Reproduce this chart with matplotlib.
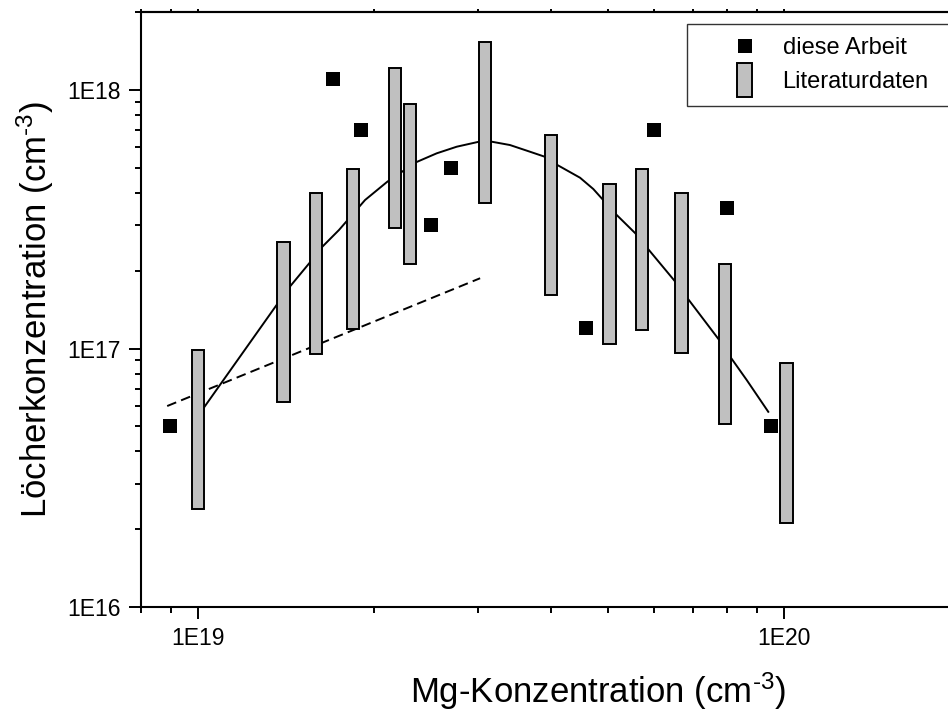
import matplotlib
matplotlib.use('Agg')
import numpy as np
import matplotlib.pyplot as plt
from matplotlib.patches import Rectangle
from matplotlib.lines import Line2D
from matplotlib.legend_handler import HandlerPatch
from matplotlib.ticker import LogLocator, NullFormatter, FixedLocator, FixedFormatter

plt.rcParams['font.family'] = ['Liberation Sans', 'DejaVu Sans']
plt.rcParams['mathtext.fontset'] = 'custom'
plt.rcParams['mathtext.rm'] = 'Liberation Sans'
plt.rcParams['mathtext.it'] = 'Liberation Sans:italic'
plt.rcParams['mathtext.bf'] = 'Liberation Sans:bold'
plt.rcParams['lines.scale_dashes'] = False

# ---------------- data ----------------
# diese Arbeit (squares)
own_mg = [8.95e18, 1.70e19, 1.90e19, 2.50e19, 2.70e19, 4.60e19, 6.00e19, 8.00e19, 9.50e19]
own_p = [5.0e16, 1.10e18, 7.0e17, 3.0e17, 5.0e17, 1.20e17, 7.0e17, 3.5e17, 5.0e16]

# Literaturdaten (ranges shown as bars)
lit_mg = [1.00e19, 1.40e19, 1.59e19, 1.84e19, 2.17e19, 2.30e19, 3.09e19,
          4.00e19, 5.04e19, 5.72e19, 6.69e19, 7.93e19, 1.01e20]
lit_low = [2.39e16, 6.2e16, 9.5e16, 1.19e17, 2.92e17, 2.12e17, 3.66e17,
           1.61e17, 1.04e17, 1.18e17, 9.6e16, 5.1e16, 2.11e16]
lit_high = [9.9e16, 2.59e17, 4.0e17, 4.94e17, 1.22e18, 8.85e17, 1.53e18,
            6.7e17, 4.34e17, 4.94e17, 4.0e17, 2.13e17, 8.8e16]

# solid guide curve
fit_mg = [1.000e19, 1.028e19, 1.362e19, 1.430e19, 1.553e19, 1.630e19, 1.740e19,
          1.928e19, 2.104e19, 2.355e19, 2.555e19, 2.764e19, 3.017e19, 3.171e19,
          3.407e19, 3.686e19, 3.905e19, 4.104e19, 4.487e19, 4.727e19, 5.168e19,
          5.576e19, 5.868e19, 6.524e19, 6.866e19, 7.737e19, 8.130e19, 8.637e19,
          9.401e19]
fit_p = [5.48e16, 5.99e16, 1.474e17, 1.719e17, 2.155e17, 2.476e17, 2.873e17,
         3.754e17, 4.418e17, 5.253e17, 5.690e17, 6.035e17, 6.31e17, 6.31e17,
         6.126e17, 5.771e17, 5.521e17, 5.128e17, 4.578e17, 4.140e17, 3.305e17,
         2.790e17, 2.420e17, 1.813e17, 1.550e17, 1.085e17, 9.165e16, 7.553e16,
         5.69e16]

# dashed line
lin_mg = [8.86e18, 3.03e19]
lin_p = [5.99e16, 1.87e17]

x_ticks = [1e19, 1e20]
x_ticklabels = ['1E19', '1E20']
y_ticks = [1e16, 1e17, 1e18]
y_ticklabels = ['1E16', '1E17', '1E18']

# ---------------- figure ----------------
fig = plt.figure(figsize=(9.48, 7.11), dpi=100)
W, H = 948.0, 711.0
ax = fig.add_axes([141.2 / W, (H - 607) / H, 922.4 / W, 594.8 / H])
ax.set_xscale('log')
ax.set_yscale('log')
ax.set_xlim(8e18, 3e20)
ax.set_ylim(1e16, 2e18)

# guide lines (behind bars)
ax.plot(fit_mg, fit_p, color='black', lw=1.4, zorder=1)
ax.plot(lin_mg, lin_p, color='black', lw=1.4, dashes=(7.0, 3.8), zorder=1)

# bars for literature ranges (constant width in log space)
mg = np.array(lit_mg)
half = 10 ** (0.0215 / 2)
left = mg / half
width = mg * half - mg / half
low = np.array(lit_low)
high = np.array(lit_high)
bars = ax.bar(left, high - low, width=width, bottom=low, align='edge',
              facecolor='#c0c0c0', edgecolor='black', linewidth=1.4, zorder=2)

# own data
sq, = ax.plot(own_mg, own_p, linestyle='none', marker='s', markersize=9.7,
              color='black', markeredgewidth=0, zorder=3)

# spines & ticks
for s in ax.spines.values():
    s.set_linewidth(1.5)
ax.xaxis.set_major_locator(FixedLocator(x_ticks))
ax.xaxis.set_major_formatter(FixedFormatter(x_ticklabels))
ax.yaxis.set_major_locator(FixedLocator(y_ticks))
ax.yaxis.set_major_formatter(FixedFormatter(y_ticklabels))
ax.xaxis.set_minor_locator(LogLocator(base=10, subs=np.arange(2, 10)))
ax.yaxis.set_minor_locator(LogLocator(base=10, subs=np.arange(2, 10)))
ax.xaxis.set_minor_formatter(NullFormatter())
ax.yaxis.set_minor_formatter(NullFormatter())
ax.tick_params(which='major', direction='out', length=8.6, width=1.4,
               labelsize=16.5, pad=6)
ax.tick_params(which='minor', direction='out', length=4.6, width=1.4)

sec = ax.secondary_xaxis('top')
sec.xaxis.set_major_locator(FixedLocator(x_ticks))
sec.xaxis.set_minor_locator(LogLocator(base=10, subs=np.arange(2, 10)))
sec.tick_params(which='both', direction='out', length=2.2, width=1.4,
                labeltop=False)
sec.spines['top'].set_linewidth(1.5)

ax.set_xlabel(r'Mg-Konzentration (cm$^{\text{-3}}$)', fontsize=25)
ax.set_ylabel(r'Löcherkonzentration (cm$^{\text{-3}}$)', fontsize=25)
ax.xaxis.label.set_va('baseline')
ax.xaxis.set_label_coords(0.5 - 4 / 922.4, (607 - 703) / 594.8)
ax.yaxis.label.set_va('baseline')
ax.yaxis.set_label_coords((47 - 141.2) / 922.4, 0.5)


# legend
def make_bar(legend, orig_handle, xdescent, ydescent, width, height, fontsize):
    bw, bh = 10.8, 24.5
    return Rectangle((width / 2 - xdescent - bw / 2, height / 2 - ydescent - bh / 2),
                     bw, bh)


bar_handle = Rectangle((0, 0), 1, 1, facecolor='#c0c0c0', edgecolor='black',
                       linewidth=1.4)
sq_handle = Line2D([], [], linestyle='none', marker='s', markersize=10,
                   color='black', markeredgewidth=0)
leg = ax.legend([sq_handle, bar_handle], ['diese Arbeit', 'Literaturdaten'],
                handler_map={Rectangle: HandlerPatch(patch_func=make_bar)},
                loc='upper left',
                bbox_to_anchor=(687 / W, 1 - 24 / H, (960 - 687) / W, 0),
                mode='expand',
                bbox_transform=fig.transFigure, fontsize=17, frameon=True,
                fancybox=False, borderpad=0.55, handlelength=3.8,
                handletextpad=-0.3, labelspacing=0.5, borderaxespad=0)
leg.get_frame().set_edgecolor('black')
leg.get_frame().set_linewidth(1.0)

fig.savefig('out.png', dpi=100)
